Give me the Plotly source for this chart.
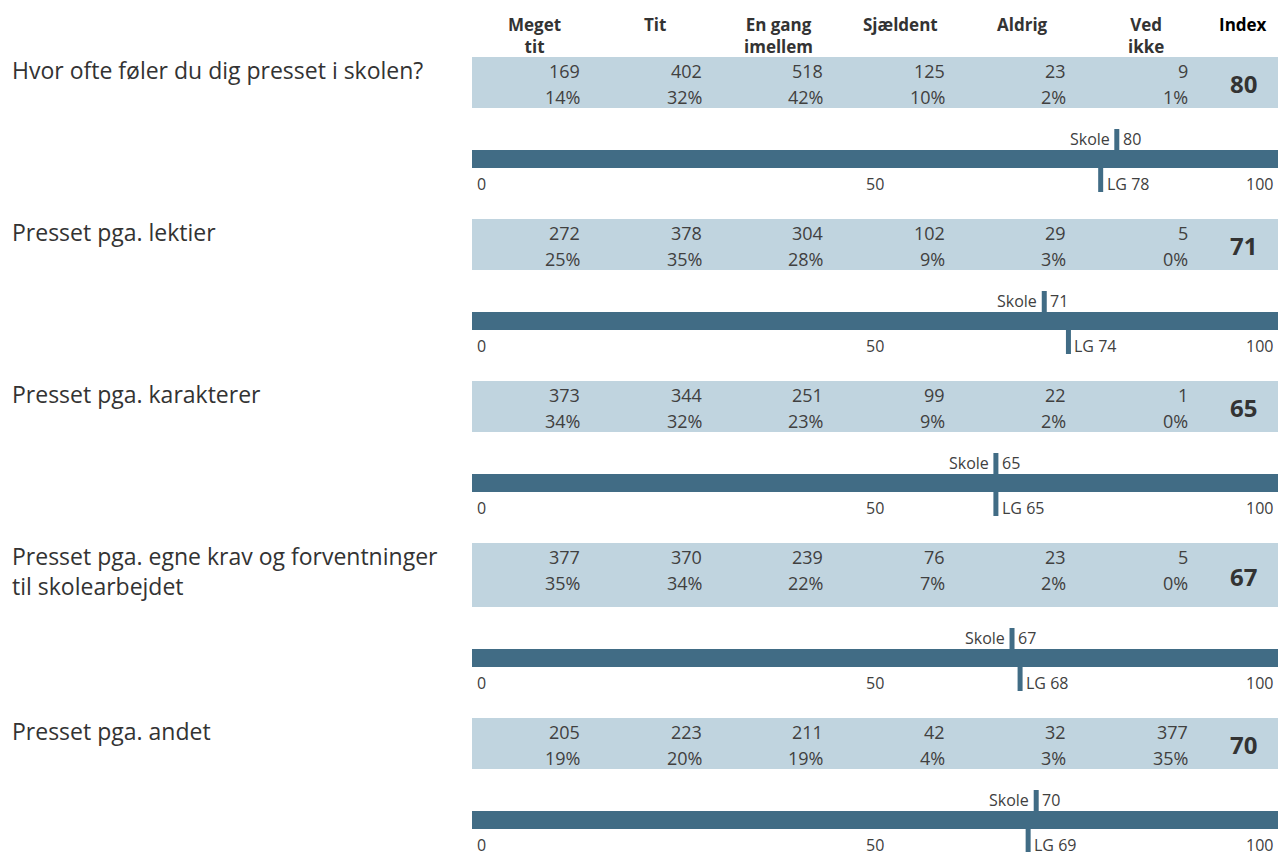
import plotly.graph_objects as go

# ---------------- data ----------------
questions = [
    "Hvor ofte føler du dig presset i skolen?",
    "Presset pga. lektier",
    "Presset pga. karakterer",
    "Presset pga. egne krav og forventninger<br>til skolearbejdet",
    "Presset pga. andet",
]
categories = ["Meget<br>tit", "Tit", "En gang<br>imellem", "Sjældent", "Aldrig", "Ved<br>ikke"]
index_header = "Index"

counts = [
    [169, 402, 518, 125, 23, 9],
    [272, 378, 304, 102, 29, 5],
    [373, 344, 251, 99, 22, 1],
    [377, 370, 239, 76, 23, 5],
    [205, 223, 211, 42, 32, 377],
]
percents = [
    [14, 32, 42, 10, 2, 1],
    [25, 35, 28, 9, 3, 0],
    [34, 32, 23, 9, 2, 0],
    [35, 34, 22, 7, 2, 0],
    [19, 20, 19, 4, 3, 35],
]
skole_index = [80, 71, 65, 67, 70]
lg_index = [78, 74, 65, 68, 69]
tick_values = [0, 50, 100]
tick_labels = ["0", "50", "100"]

# ---------------- style / layout constants ----------------
W, H = 1278, 852
FONT = "Open Sans"
BAND_COLOR = "#c0d4df"
BAR_COLOR = "#416c85"
TEXT_COLOR = "#404040"
LABEL_COLOR = "#333333"

band_heights = [51, 51, 51, 64, 51]
first_top = 57
band_to_bar = 42
bar_h = 18
bar_to_next = 51
marker_len = 21
marker_w = 5

x0_px = 472
def px_to_axis(px):
    return (px - x0_px) / (W - x0_px) * 100

col_right = [px_to_axis(582 + 121.6 * i) for i in range(6)]
col_header = [px_to_axis(p) for p in [534, 655, 778, 900, 1022, 1146]]
index_x = px_to_axis(1243)

fig = go.Figure()
annotations = []
shapes = []

top = first_top
band_centers, bar_centers, band_ws = [], [], []
for r in range(len(questions)):
    bh = band_heights[r]
    band_centers.append(top + bh / 2)
    band_ws.append(bh)
    bar_top = top + bh + band_to_bar
    bar_centers.append(bar_top + bar_h / 2)

    # left label
    annotations.append(dict(
        x=10 / W, xref="paper", y=top - 5, yref="y", xanchor="left", yanchor="top",
        text=questions[r], showarrow=False, align="left",
        font=dict(family=FONT, size=23, color=LABEL_COLOR)))
    # counts & percents
    for c in range(6):
        annotations.append(dict(
            x=col_right[c], y=top + 14, xref="x", yref="y", xanchor="right", yanchor="middle",
            text=str(counts[r][c]), showarrow=False,
            font=dict(family=FONT, size=18, color=TEXT_COLOR)))
        annotations.append(dict(
            x=col_right[c], y=top + 40, xref="x", yref="y", xanchor="right", yanchor="middle",
            text=f"{percents[r][c]}%", showarrow=False,
            font=dict(family=FONT, size=18, color=TEXT_COLOR)))
    annotations.append(dict(
        x=index_x, y=top + bh / 2 + 1, xref="x", yref="y", xanchor="center", yanchor="middle",
        text=f"<b>{skole_index[r]}</b>", showarrow=False,
        font=dict(family=FONT, size=24, color=LABEL_COLOR)))

    # markers
    s = skole_index[r]
    l = lg_index[r]
    shapes.append(dict(type="line", xref="x", yref="y", x0=s, x1=s,
                       y0=bar_top - marker_len, y1=bar_top,
                       line=dict(color=BAR_COLOR, width=marker_w)))
    shapes.append(dict(type="line", xref="x", yref="y", x0=l, x1=l,
                       y0=bar_top + bar_h, y1=bar_top + bar_h + marker_len + 3,
                       line=dict(color=BAR_COLOR, width=marker_w)))
    annotations.append(dict(
        x=s, y=bar_top - 11, xref="x", yref="y", xanchor="right", yanchor="middle", xshift=-5,
        text="Skole", showarrow=False, font=dict(family=FONT, size=16, color=TEXT_COLOR)))
    annotations.append(dict(
        x=s, y=bar_top - 11, xref="x", yref="y", xanchor="left", yanchor="middle", xshift=4,
        text=str(s), showarrow=False, font=dict(family=FONT, size=16, color=TEXT_COLOR)))
    annotations.append(dict(
        x=l, y=bar_top + bar_h + 16, xref="x", yref="y", xanchor="left", yanchor="middle", xshift=4,
        text=f"LG {l}", showarrow=False, font=dict(family=FONT, size=16, color=TEXT_COLOR)))
    # ticks
    for tv, tl in zip(tick_values, tick_labels):
        anchor = "left" if tv == tick_values[0] else ("right" if tv == tick_values[-1] else "center")
        shift = 3 if anchor == "left" else (-3 if anchor == "right" else 0)
        annotations.append(dict(
            x=tv, y=bar_top + bar_h + 16, xref="x", yref="y", xanchor=anchor, yanchor="middle",
            xshift=shift, text=tl, showarrow=False,
            font=dict(family=FONT, size=16, color=TEXT_COLOR)))

    top = bar_top + bar_h + bar_to_next

# header
for c in range(6):
    annotations.append(dict(
        x=col_header[c], y=11, xref="x", yref="y", xanchor="center", yanchor="top",
        text=f"<b>{categories[c]}</b>", showarrow=False,
        font=dict(family=FONT, size=17, color=LABEL_COLOR)))
annotations.append(dict(
    x=index_x, y=11, xref="x", yref="y", xanchor="center", yanchor="top",
    text=f"<b>{index_header}</b>", showarrow=False,
    font=dict(family=FONT, size=17, color="#000000")))

# band bars
fig.add_trace(go.Bar(
    x=[100] * len(questions), y=band_centers, width=band_ws, base=0,
    orientation="h", marker=dict(color=BAND_COLOR, line=dict(width=0)),
    hoverinfo="skip", showlegend=False))
# index scale bars
fig.add_trace(go.Bar(
    x=[100] * len(questions), y=bar_centers, width=[bar_h] * len(questions), base=0,
    orientation="h", marker=dict(color=BAR_COLOR, line=dict(width=0)),
    hoverinfo="skip", showlegend=False))

fig.update_layout(
    width=W, height=H,
    margin=dict(l=0, r=0, t=0, b=0),
    paper_bgcolor="white", plot_bgcolor="white",
    barmode="overlay",
    xaxis=dict(domain=[x0_px / W, 1], range=[0, 100], visible=False, fixedrange=True),
    yaxis=dict(domain=[0, 1], range=[H, 0], visible=False, fixedrange=True),
    annotations=annotations,
    shapes=shapes,
    showlegend=False,
)

fig.write_html("out.html", config={"displayModeBar": False})

# remove default page margin so the figure fills the window exactly
with open("out.html", "r", encoding="utf-8") as f:
    html = f.read()
html = html.replace("<head>", "<head><style>html,body{margin:0;padding:0;overflow:hidden;}</style>", 1)
with open("out.html", "w", encoding="utf-8") as f:
    f.write(html)
